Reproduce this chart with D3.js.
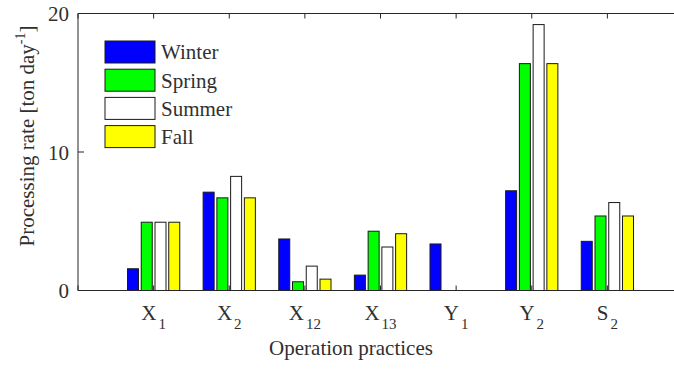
<!DOCTYPE html>
<html>
<head>
<meta charset="utf-8">
<script src="https://cdn.jsdelivr.net/npm/d3@7"></script>
<style>
  html, body { margin: 0; padding: 0; background: #fff; }
  svg { display: block; }
</style>
</head>
<body>
<svg id="chart" width="674" height="369"></svg>
<script>
// Processing rate per operation practice, by season
const categories = ["X|1", "X|2", "X|12", "X|13", "Y|1", "Y|2", "S|2"];
const seasons = ["Winter", "Spring", "Summer", "Fall"];
const winter = [1.57, 7.1, 3.72, 1.11, 3.36, 7.2, 3.55];
const spring = [4.93, 6.69, 0.63, 4.28, 0, 16.38, 5.38];
const summer = [4.93, 8.24, 1.76, 3.14, 0, 19.2, 6.35];
const fall   = [4.93, 6.69, 0.82, 4.1, 0, 16.38, 5.38];
const yTicks = [0, 10, 20];
const seriesColors = ["#0000ff", "#00ff00", "#ffffff", "#ffff00"];

const series = [winter, spring, summer, fall];

const svg = d3.select("#chart")
  .attr("font-family", "'Liberation Serif', 'Times New Roman', Tinos, 'DejaVu Serif', serif");
const plotLeft = 78, plotRight = 683, plotTop = 13.5, plotBottom = 290.5;
const ink = "#262626";

const x = d3.scaleLinear().domain([0, categories.length + 1]).range([plotLeft, plotRight]);
const y = d3.scaleLinear().domain([0, 20]).range([plotBottom, plotTop]);
// offsets of the four bars inside a group, in category units
const inner = d3.scaleBand().domain(seasons)
  .range([-0.3636, 0.3636]).paddingInner(0.2).paddingOuter(0.1);

// bars
seasons.forEach((s, si) => {
  svg.append("g").selectAll("rect")
    .data(series[si])
    .join("rect")
    .attr("x", (d, i) => x(i + 1 + inner(s)))
    .attr("width", (d, i) => x(i + 1 + inner(s) + inner.bandwidth()) - x(i + 1 + inner(s)))
    .attr("y", d => y(d))
    .attr("height", d => y(0) - y(d))
    .attr("fill", seriesColors[si])
    .attr("stroke", "#1a1a1a")
    .attr("stroke-width", 1);
});

// box lines
const box = svg.append("g").attr("fill", "none").attr("stroke", ink).attr("stroke-width", 1);
box.append("line").attr("x1", plotLeft).attr("x2", plotRight).attr("y1", plotBottom).attr("y2", plotBottom);
box.append("line").attr("x1", plotLeft).attr("x2", plotRight).attr("y1", plotTop).attr("y2", plotTop);
box.append("line").attr("x1", plotLeft).attr("x2", plotLeft).attr("y1", plotTop).attr("y2", plotBottom);
box.append("line").attr("x1", plotRight).attr("x2", plotRight).attr("y1", plotTop).attr("y2", plotBottom);

// inward ticks: x on bottom and top, y on left
const xTickPos = d3.range(0, categories.length + 2);
box.append("g").selectAll("line").data(xTickPos).join("line")
  .attr("x1", d => x(d)).attr("x2", d => x(d))
  .attr("y1", plotBottom).attr("y2", plotBottom - 5);
box.append("g").selectAll("line").data(xTickPos).join("line")
  .attr("x1", d => x(d)).attr("x2", d => x(d))
  .attr("y1", plotTop).attr("y2", plotTop + 5);
box.append("g").selectAll("line").data(yTicks).join("line")
  .attr("x1", plotLeft).attr("x2", plotLeft + 6)
  .attr("y1", d => y(d)).attr("y2", d => y(d));

const textColor = "#303030";

// y tick labels
svg.append("g").selectAll("text").data(yTicks).join("text")
  .attr("x", plotLeft - 9).attr("y", d => y(d)).attr("dy", "0.36em")
  .attr("text-anchor", "end").attr("font-size", 21).attr("fill", textColor)
  .text(d => d);

// x tick labels with subscripts
const xl = svg.append("g").selectAll("text").data(categories).join("text")
  .attr("x", (d, i) => x(i + 1)).attr("y", 320)
  .attr("text-anchor", "middle").attr("font-size", 21).attr("fill", textColor);
xl.append("tspan").text(d => d.split("|")[0]);
xl.append("tspan").attr("font-size", 15).attr("dy", 9).attr("dx", 2)
  .text(d => d.split("|")[1]);

// axis titles
svg.append("text").attr("x", 351).attr("y", 355)
  .attr("text-anchor", "middle").attr("font-size", 21).attr("fill", textColor)
  .text("Operation practices");

const yl = svg.append("text")
  .attr("transform", "translate(34,136) rotate(-90)")
  .attr("text-anchor", "middle").attr("font-size", 21).attr("fill", textColor);
yl.append("tspan").text("Processing rate [ton day");
yl.append("tspan").attr("font-size", 14).attr("dy", -9).text("-1");
yl.append("tspan").attr("dy", 9).text("]");

// legend
const lg = svg.append("g");
seasons.forEach((s, i) => {
  const yy = 41 + i * 28.2;
  lg.append("rect").attr("x", 105).attr("y", yy).attr("width", 50).attr("height", 22)
    .attr("fill", seriesColors[i]).attr("stroke", "#1a1a1a").attr("stroke-width", 1);
  lg.append("text").attr("x", 161).attr("y", yy + 11).attr("dy", "0.35em")
    .attr("font-size", 21).attr("fill", textColor).text(s);
});
</script>
</body>
</html>
